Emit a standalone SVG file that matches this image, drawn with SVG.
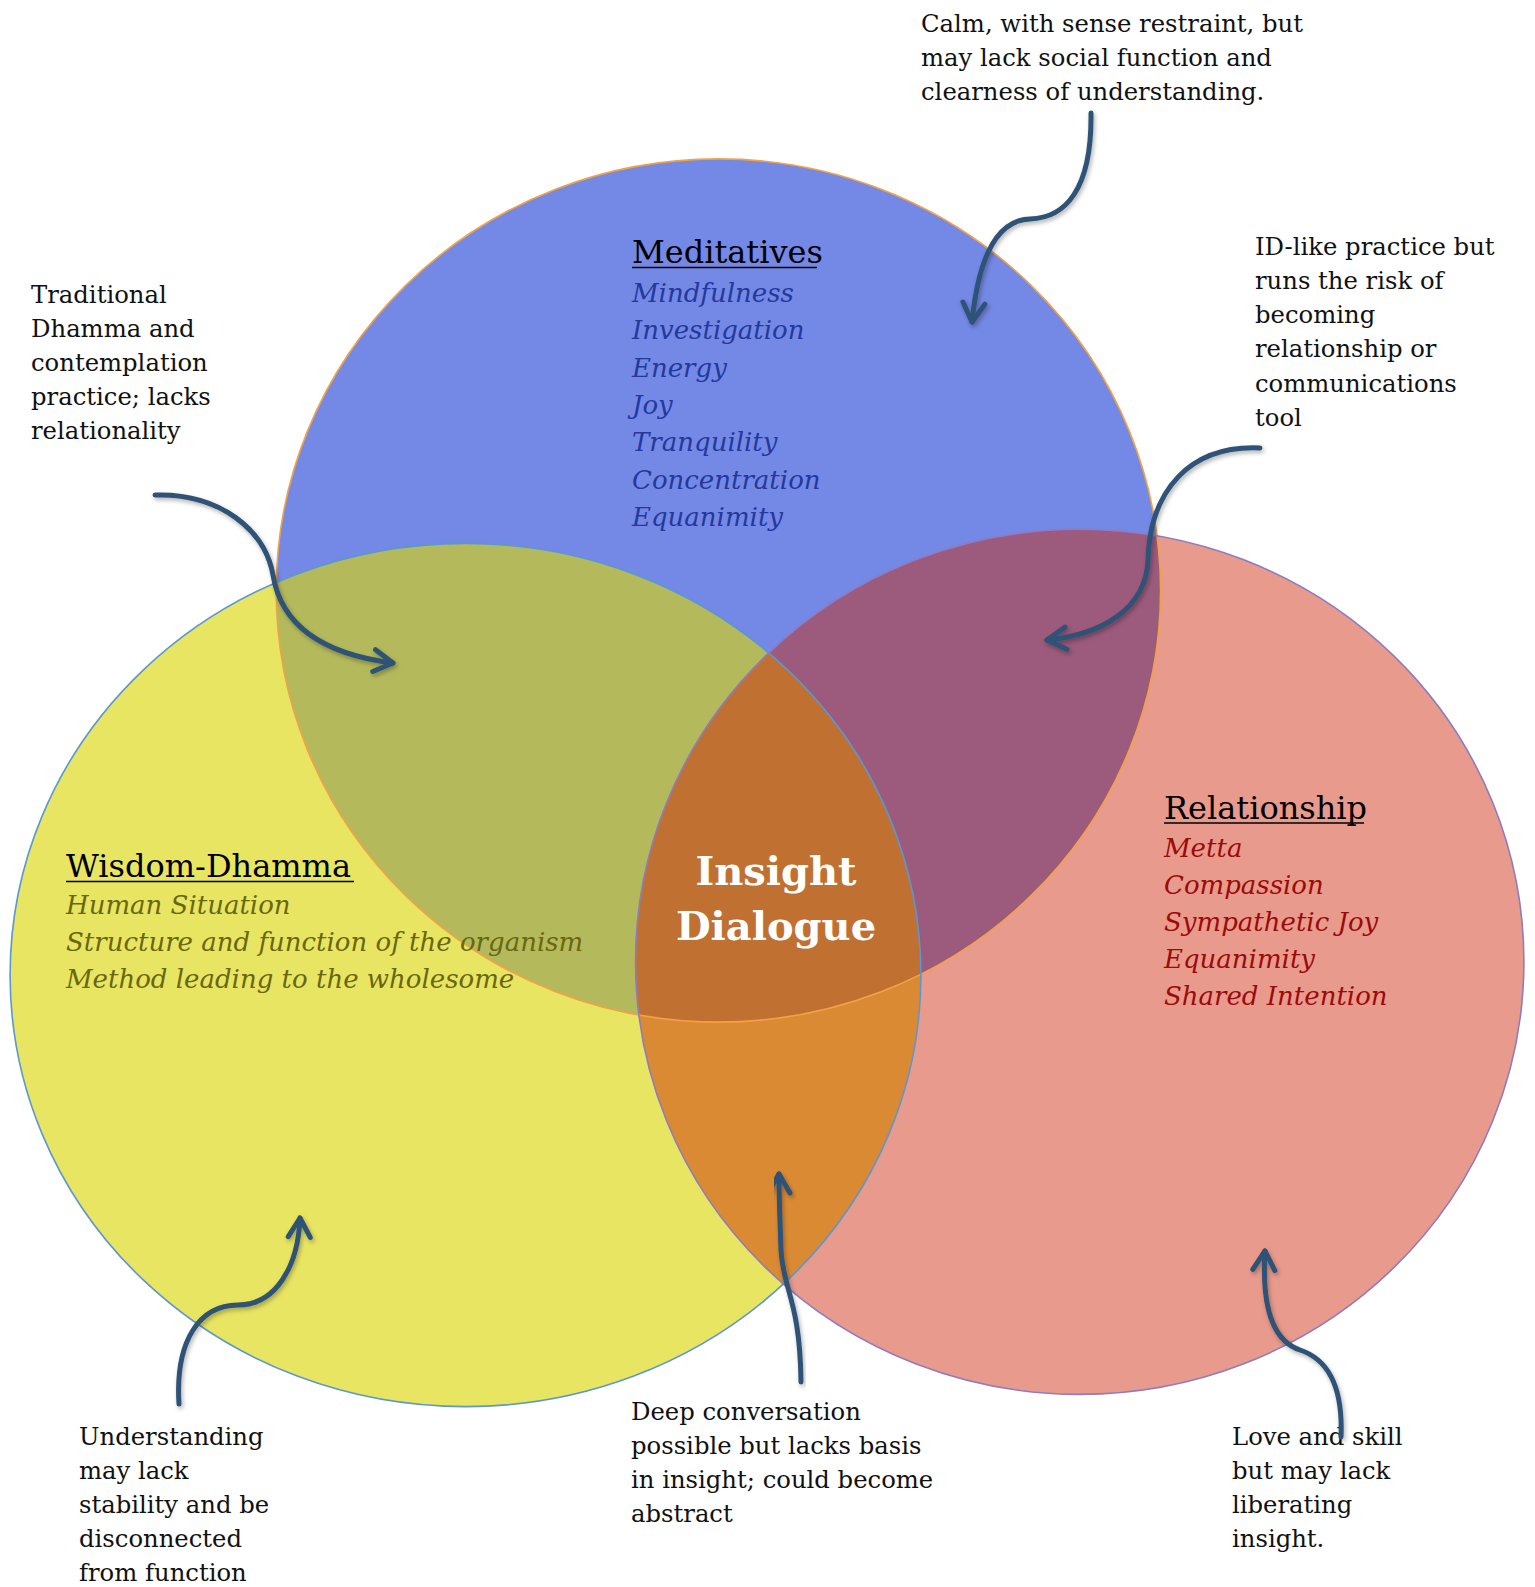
<svg xmlns="http://www.w3.org/2000/svg" width="1535" height="1587" viewBox="0 0 1535 1587">
<style>
.ann{font-family:"DejaVu Serif","Liberation Serif",serif;font-size:24.3px;fill:#111}
.head{font-family:"DejaVu Serif","Liberation Serif",serif;font-size:32px;fill:#000}
.it{font-family:"DejaVu Serif","Liberation Serif",serif;font-size:26px;font-style:italic}
.blueT{fill:#24399c}.oliveT{fill:#6a6710}.redT{fill:#9c0a0a}
.ul{stroke:#000;stroke-width:1.6}
.arrow{fill:none;stroke:#2f5277;stroke-width:5;stroke-linecap:round;stroke-linejoin:round;filter:url(#sh)}
.center{font-family:"DejaVu Serif","Liberation Serif",serif;font-size:40px;font-weight:bold;fill:#fff;text-anchor:middle}
</style>
<defs>
<filter id="sh" x="-20%" y="-20%" width="140%" height="140%">
<feDropShadow dx="1.5" dy="2.5" stdDeviation="2" flood-color="#000" flood-opacity="0.3"/>
</filter>
<marker id="head" viewBox="-5 -4 6 8" refX="0" refY="0" markerWidth="6" markerHeight="8" orient="auto" markerUnits="strokeWidth" overflow="visible">
<path d="M-3.8,-2.2 L0,0 L-3.8,2.2" fill="none" stroke="#2f5277" stroke-width="1" stroke-linecap="round" stroke-linejoin="round"/>
</marker>
<ellipse id="eB" cx="718.4" cy="590.5" rx="442.2" ry="431.6"/>
<ellipse id="eY" cx="465.5" cy="975" rx="455.4" ry="431.6"/>
<ellipse id="eR" cx="1079.7" cy="961.8" rx="444.2" ry="432.6"/>
<clipPath id="cB"><use href="#eB"/></clipPath>
<clipPath id="cY"><use href="#eY"/></clipPath>
</defs>
<rect width="1535" height="1587" fill="#fff"/>
<g id="circles">
<use href="#eB" fill="#7488e5"/>
<use href="#eY" fill="#e8e563"/>
<use href="#eR" fill="#e89a8c"/>
<use href="#eY" fill="#b4ba5b" clip-path="url(#cB)"/>
<use href="#eR" fill="#9c5a7c" clip-path="url(#cB)"/>
<use href="#eR" fill="#db8a34" clip-path="url(#cY)"/>
<g clip-path="url(#cB)"><use href="#eR" fill="#c07131" clip-path="url(#cY)"/></g>
<use href="#eB" fill="none" stroke="#f2a246" stroke-width="1.6"/>
<use href="#eY" fill="none" stroke="#5b97d0" stroke-width="1.6"/>
<use href="#eR" fill="none" stroke="#8e7cc0" stroke-width="1.6"/>
</g>
<g id="node-meditatives">
<text class="head" x="632" y="263">Meditatives</text>
<line class="ul" x1="632" y1="267.5" x2="817" y2="267.5"/>
<text class="it blueT" x="632" y="302">Mindfulness</text>
<text class="it blueT" x="632" y="339.3">Investigation</text>
<text class="it blueT" x="632" y="376.7">Energy</text>
<text class="it blueT" x="632" y="414">Joy</text>
<text class="it blueT" x="632" y="451.3">Tranquility</text>
<text class="it blueT" x="632" y="488.7">Concentration</text>
<text class="it blueT" x="632" y="526">Equanimity</text>
</g>
<g id="node-wisdom">
<text class="head" x="66" y="877">Wisdom-Dhamma</text>
<line class="ul" x1="66" y1="881.5" x2="354" y2="881.5"/>
<text class="it oliveT" x="66" y="914">Human Situation</text>
<text class="it oliveT" x="66" y="951">Structure and function of the organism</text>
<text class="it oliveT" x="66" y="988">Method leading to the wholesome</text>
</g>
<g id="node-relationship">
<text class="head" x="1164" y="819">Relationship</text>
<line class="ul" x1="1164" y1="823" x2="1364" y2="823"/>
<text class="it redT" x="1164" y="857">Metta</text>
<text class="it redT" x="1164" y="894">Compassion</text>
<text class="it redT" x="1164" y="931">Sympathetic Joy</text>
<text class="it redT" x="1164" y="968">Equanimity</text>
<text class="it redT" x="1164" y="1005">Shared Intention</text>
</g>
<g id="node-insight">
<text class="center" x="776" y="885">Insight</text>
<text class="center" x="776" y="940">Dialogue</text>
</g>
<g id="note-calm">
<text class="ann" x="921" y="32">Calm, with sense restraint, but</text>
<text class="ann" x="921" y="66">may lack social function and</text>
<text class="ann" x="921" y="100">clearness of understanding.</text>
</g>
<g id="note-traditional">
<text class="ann" x="31" y="303">Traditional</text>
<text class="ann" x="31" y="337">Dhamma and</text>
<text class="ann" x="31" y="371">contemplation</text>
<text class="ann" x="31" y="405">practice; lacks</text>
<text class="ann" x="31" y="439">relationality</text>
</g>
<g id="note-idlike">
<text class="ann" x="1255" y="255">ID-like practice but</text>
<text class="ann" x="1255" y="289">runs the risk of</text>
<text class="ann" x="1255" y="323">becoming</text>
<text class="ann" x="1255" y="357">relationship or</text>
<text class="ann" x="1255" y="392">communications</text>
<text class="ann" x="1255" y="426">tool</text>
</g>
<g id="note-understanding">
<text class="ann" x="79" y="1445">Understanding</text>
<text class="ann" x="79" y="1479">may lack</text>
<text class="ann" x="79" y="1513">stability and be</text>
<text class="ann" x="79" y="1547">disconnected</text>
<text class="ann" x="79" y="1581">from function</text>
</g>
<g id="note-deep">
<text class="ann" x="631" y="1420">Deep conversation</text>
<text class="ann" x="631" y="1454">possible but lacks basis</text>
<text class="ann" x="631" y="1488">in insight; could become</text>
<text class="ann" x="631" y="1522">abstract</text>
</g>
<g id="note-love">
<text class="ann" x="1232" y="1445">Love and skill</text>
<text class="ann" x="1232" y="1479">but may lack</text>
<text class="ann" x="1232" y="1513">liberating</text>
<text class="ann" x="1232" y="1547">insight.</text>
</g>
<g id="connectors">
<path class="arrow" marker-end="url(#head)" d="M1091,113 C1092,190 1065,218 1030,219 C995,220 978,262 972,322"/>
<path class="arrow" marker-end="url(#head)" d="M155,495 C220,493 265,530 273,575 C282,630 330,655 393,663"/>
<path class="arrow" marker-end="url(#head)" d="M1260,448 C1190,445 1150,490 1148,560 C1146,610 1100,635 1047,640"/>
<path class="arrow" marker-end="url(#head)" d="M179,1404 C175,1340 200,1305 238,1305 C275,1305 298,1268 300,1218"/>
<path class="arrow" marker-end="url(#head)" d="M801,1382 C800,1300 783,1290 781,1250 C780,1220 779,1200 779,1174"/>
<path class="arrow" marker-end="url(#head)" d="M1341,1437 C1343,1390 1330,1360 1300,1350 C1270,1340 1262,1300 1265,1251"/>
</g>
</svg>
